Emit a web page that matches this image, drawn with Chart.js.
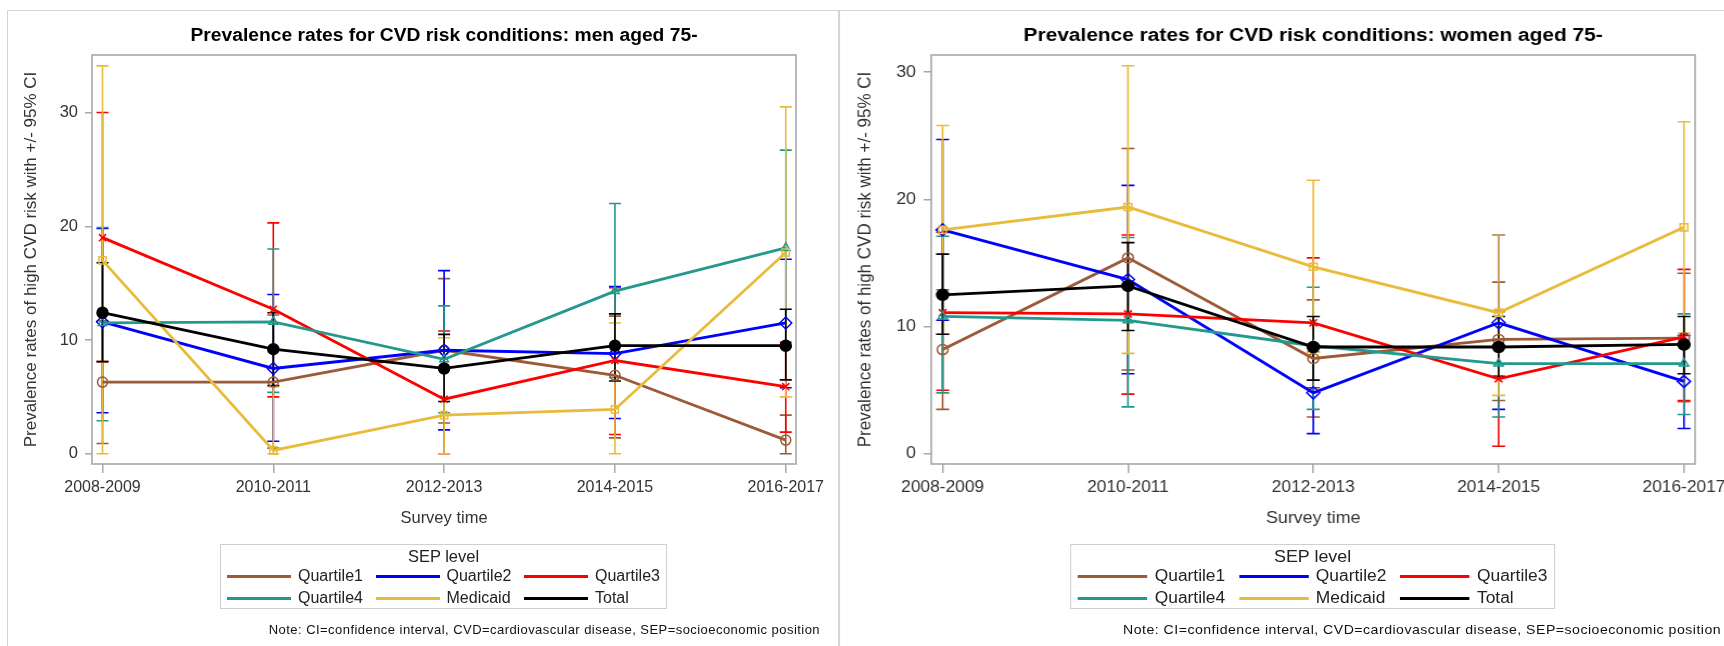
<!DOCTYPE html>
<html>
<head>
<meta charset="utf-8">
<script src="https://cdn.jsdelivr.net/npm/chart.js@4.4.1/dist/chart.umd.min.js"></script>
<style>
  html, body { margin: 0; padding: 0; background: #fff; }
  body { width: 1724px; height: 646px; overflow: hidden; position: relative; }
  .panel { position: absolute; top: 10px; width: 832px; height: 650px; box-sizing: border-box;
           border: 1px solid #d4d4d4; transform-origin: 0 0; }
  .panel canvas { position: absolute; left: 0; top: 0; }
  .legend { position: absolute; left: 212px; top: 533px; width: 447px; height: 65px; box-sizing: border-box;
            border: 1px solid #cfcfcf; font-family: "Liberation Sans", Arial, sans-serif;
            font-size: 16px; color: #222; }
  .legend .ttl { position: absolute; left: 0; right: 0; top: 0; height: 22px; line-height: 22px; text-align: center; font-size: 16.5px; }
  .legend .rows { position: absolute; left: 6px; top: 20px; display: grid; grid-template-columns: repeat(3, 148.5px); row-gap: 0; }
  .legend .item { display: flex; align-items: center; height: 22px; }
  .legend .sw { width: 64px; height: 3px; margin-right: 7px; }
  .note { position: absolute; right: 18px; top: 611px; font-family: "Liberation Sans", Arial, sans-serif;
          font-size: 13px; letter-spacing: 0.45px; color: #111; white-space: nowrap; }
</style>
</head>
<body>
<div class="panel" id="pMen" style="left:7px"><canvas id="cMen" width="830" height="648"></canvas></div>
<div class="panel" id="pWomen" style="left:839px; transform: scaleX(1.085)"><canvas id="cWomen" width="830" height="648"></canvas></div>
<script>
const surveyTimes = ["2008-2009", "2010-2011", "2012-2013", "2014-2015", "2016-2017"];
const groupNames = ["Quartile1", "Quartile2", "Quartile3", "Quartile4", "Medicaid", "Total"];
const groupColors = ["#9C5A36", "#0000FF", "#FF0000", "#23998E", "#E8BB3A", "#000000"];
const markerStyles = ["circle", "rectRot", "crossRot", "triangle", "rect", "circle"];
const yTicks = [0, 10, 20, 30];

// men aged 75-
const menQ1 = [6.3, 6.3, 9.1, 6.9, 1.2];
const menQ1Lo = [0.9, 0.5, 2.7, 1.4, 0];
const menQ1Hi = [11.7, 12.2, 15.4, 12.1, 3.4];
const menQ2 = [11.6, 7.5, 9.1, 8.8, 11.5];
const menQ2Lo = [3.6, 1.1, 2.1, 3.1, 5.8];
const menQ2Hi = [19.8, 14.0, 16.1, 14.7, 17.1];
const menQ3 = [19.0, 12.7, 4.8, 8.2, 5.9];
const menQ3Lo = [8.1, 5.0, 0, 1.7, 1.9];
const menQ3Hi = [30.0, 20.3, 10.8, 14.6, 9.8];
const menQ4 = [11.5, 11.6, 8.3, 14.3, 18.1];
const menQ4Lo = [2.9, 5.4, 3.6, 6.7, 9.4];
const menQ4Hi = [19.9, 18.0, 13.0, 22.0, 26.7];
const menMed = [17.0, 0.3, 3.4, 3.9, 17.7];
const menMedLo = [0, 0, 0, 0, 5.0];
const menMedHi = [34.1, 5.9, 10.2, 11.5, 30.5];
const menTot = [12.4, 9.2, 7.5, 9.5, 9.5];
const menTotLo = [8.1, 6.0, 4.6, 6.4, 6.5];
const menTotHi = [16.8, 12.4, 10.5, 12.3, 12.7];

// women aged 75-
const womenQ1 = [8.2, 15.4, 7.5, 9.0, 9.1];
const womenQ1Lo = [3.5, 6.6, 2.9, 4.2, 4.1];
const womenQ1Hi = [12.9, 24.0, 12.1, 13.5, 14.2];
const womenQ2 = [17.6, 13.7, 4.8, 10.3, 5.7];
const womenQ2Lo = [10.5, 6.3, 1.6, 3.5, 2.0];
const womenQ2Hi = [24.7, 21.1, 8.0, 17.2, 9.3];
const womenQ3 = [11.1, 11.0, 10.3, 5.9, 9.2];
const womenQ3Lo = [5.0, 4.7, 5.2, 0.6, 4.2];
const womenQ3Hi = [17.4, 17.2, 15.4, 11.2, 14.5];
const womenQ4 = [10.8, 10.5, 8.5, 7.1, 7.1];
const womenQ4Lo = [4.8, 3.7, 3.5, 2.9, 3.1];
const womenQ4Hi = [17.1, 17.0, 13.1, 11.2, 11.0];
const womenMed = [17.6, 19.4, 14.7, 11.1, 17.8];
const womenMedLo = [9.4, 7.9, 8.0, 4.6, 9.5];
const womenMedHi = [25.8, 30.5, 21.5, 17.2, 26.1];
const womenTot = [12.5, 13.2, 8.4, 8.4, 8.6];
const womenTotLo = [9.4, 9.7, 5.8, 6.1, 6.3];
const womenTotHi = [15.7, 16.6, 10.8, 10.8, 10.8];

const SANS = "'Liberation Sans', Arial, sans-serif";
Chart.defaults.font.family = SANS;
Chart.defaults.color = "#333";

// draws the +/- 95% CI bars under the lines
const errorBars = {
  id: "errorBars",
  beforeDatasetsDraw(chart, args, opts) {
    const { ctx, scales: { x, y } } = chart;
    ctx.save();
    ctx.lineWidth = 1.6;
    opts.lows.forEach((lo, g) => {
      ctx.strokeStyle = groupColors[g];
      lo.forEach((v, i) => {
        const px = x.getPixelForValue(i);
        const y0 = y.getPixelForValue(v), y1 = y.getPixelForValue(opts.highs[g][i]);
        ctx.beginPath();
        ctx.moveTo(px, y0); ctx.lineTo(px, y1);
        ctx.moveTo(px - 6, y0); ctx.lineTo(px + 6, y0);
        ctx.moveTo(px - 6, y1); ctx.lineTo(px + 6, y1);
        ctx.stroke();
      });
    });
    ctx.restore();
  }
};

const frame = {
  id: "frame",
  afterDraw(chart) {
    const { ctx, chartArea: a } = chart;
    ctx.save();
    ctx.strokeStyle = "#a9a9a9";
    ctx.lineWidth = 1.6;
    ctx.strokeRect(a.left, a.top, a.right - a.left, a.bottom - a.top);
    ctx.restore();
  }
};

function makePanel(canvasId, panelId, title, vals, lows, highs, yMin, yMax) {
  const datasets = vals.map((arr, g) => ({
    label: groupNames[g],
    data: arr.map((v, i) => ({ x: i, y: v })),
    borderColor: groupColors[g],
    borderWidth: 2.8,
    tension: 0,
    pointStyle: markerStyles[g],
    pointRadius: g === 5 ? 5.5 : (g === 1 ? 6 : 5),
    pointBorderWidth: 1.5,
    pointBorderColor: groupColors[g],
    pointBackgroundColor: g === 5 ? "#000" : "rgba(0,0,0,0)",
    order: 5 - g
  }));

  new Chart(document.getElementById(canvasId), {
    type: "line",
    data: { datasets },
    plugins: [errorBars, frame],
    options: {
      responsive: false,
      animation: false,
      layout: { padding: { left: 0, right: 42, top: 0, bottom: 115 } },
      plugins: {
        legend: { display: false },
        tooltip: { enabled: false },
        title: {
          display: true, text: title, fullSize: false, color: "#000",
          font: { family: SANS, size: 19.25, weight: "bold" },
          padding: { top: 13, bottom: 7.9 }
        },
        errorBars: { lows, highs }
      },
      scales: {
        x: {
          type: "linear", min: -0.0615, max: 4.06,
          afterBuildTicks: s => { s.ticks = surveyTimes.map((_, i) => ({ value: i })); },
          afterFit: s => { s.height = 80; },
          ticks: { callback: v => surveyTimes[v], font: { size: 16 }, padding: 5.4, maxRotation: 0, color: "#333" },
          grid: { drawOnChartArea: false, drawTicks: true, tickLength: 9, color: "#a9a9a9", lineWidth: 1.5 },
          border: { display: false },
          title: { display: true, text: "Survey time", font: { size: 16.5 }, color: "#333", padding: { top: 0, bottom: 15.2 } }
        },
        y: {
          min: yMin, max: yMax,
          afterBuildTicks: s => { s.ticks = yTicks.map(v => ({ value: v })); },
          afterFit: s => { s.width = 84; },
          ticks: { font: { size: 16.5 }, padding: 7, color: "#333" },
          grid: { drawOnChartArea: false, drawTicks: true, tickLength: 7, color: "#a9a9a9", lineWidth: 1.5 },
          border: { display: false },
          title: { display: true, text: "Prevalence rates of high CVD risk with +/- 95% CI", font: { size: 17 }, color: "#333", padding: { top: 12.8, bottom: 0 } }
        }
      }
    }
  });

  const panel = document.getElementById(panelId);
  const lg = document.createElement("div");
  lg.className = "legend";
  lg.innerHTML = '<div class="ttl">SEP level</div><div class="rows">' +
    groupNames.map((n, g) => `<div class="item"><span class="sw" style="background:${groupColors[g]}"></span><span>${n}</span></div>`).join("") +
    "</div>";
  panel.appendChild(lg);
  const note = document.createElement("div");
  note.className = "note";
  note.textContent = "Note: CI=confidence interval, CVD=cardiovascular disease, SEP=socioeconomic position";
  panel.appendChild(note);
}

makePanel("cMen", "pMen", "Prevalence rates for CVD risk conditions: men aged 75-",
  [menQ1, menQ2, menQ3, menQ4, menMed, menTot],
  [menQ1Lo, menQ2Lo, menQ3Lo, menQ4Lo, menMedLo, menTotLo],
  [menQ1Hi, menQ2Hi, menQ3Hi, menQ4Hi, menMedHi, menTotHi], -0.9, 35.06);

makePanel("cWomen", "pWomen", "Prevalence rates for CVD risk conditions: women aged 75-",
  [womenQ1, womenQ2, womenQ3, womenQ4, womenMed, womenTot],
  [womenQ1Lo, womenQ2Lo, womenQ3Lo, womenQ4Lo, womenMedLo, womenTotLo],
  [womenQ1Hi, womenQ2Hi, womenQ3Hi, womenQ4Hi, womenMedHi, womenTotHi], -0.79, 31.34);
</script>
</body>
</html>
